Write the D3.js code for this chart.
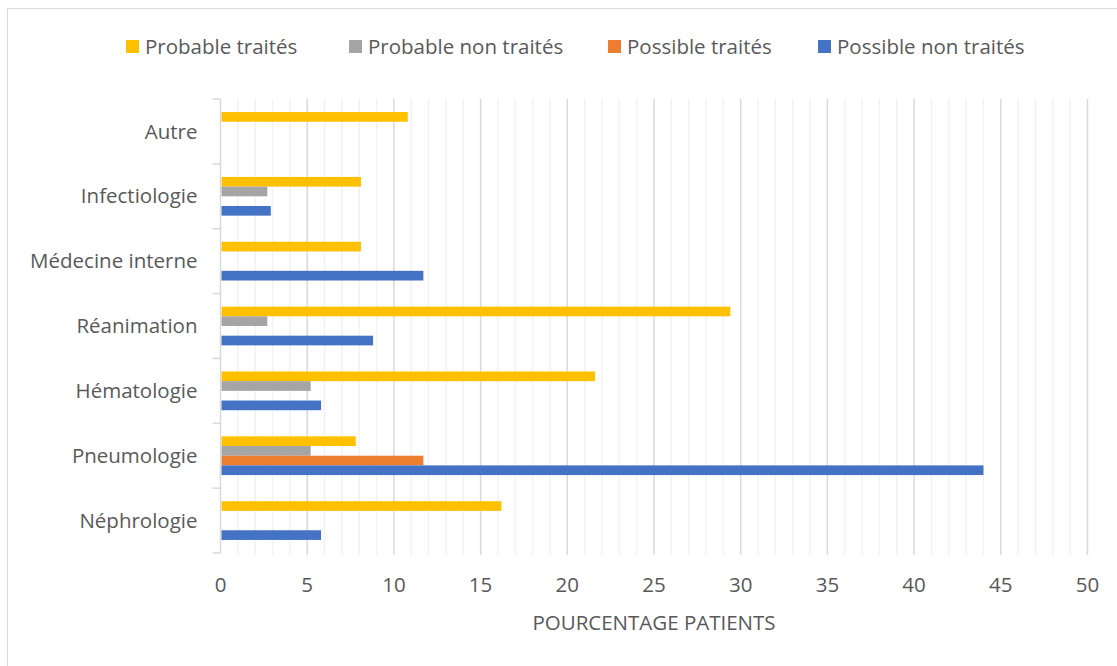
<!DOCTYPE html>
<html>
<head>
<meta charset="utf-8">
<script src="https://cdn.jsdelivr.net/npm/d3@7"></script>
<style>
  body { margin: 0; background: #fff; }
  text { font-family: "Open Sans", sans-serif; fill: #595959; }
</style>
</head>
<body>
<div id="chart"></div>
<script>
// data, categories listed top to bottom
const categories = ["Autre", "Infectiologie", "Médecine interne", "Réanimation", "Hématologie", "Pneumologie", "Néphrologie"];
const seriesNames = ["Probable traités", "Probable non traités", "Possible traités", "Possible non traités"];
const probableTraites = [10.8, 8.1, 8.1, 29.4, 21.6, 7.8, 16.2];
const probableNonTraites = [0, 2.7, 0, 2.7, 5.2, 5.2, 0];
const possibleTraites = [0, 0, 0, 0, 0, 11.7, 0];
const possibleNonTraites = [0, 2.9, 11.7, 8.8, 5.8, 44, 5.8];
const xTicks = [0, 5, 10, 15, 20, 25, 30, 35, 40, 45, 50];
const colors = ["#FFC000", "#A5A5A5", "#ED7D31", "#4472C4"];

const seriesValues = [probableTraites, probableNonTraites, possibleTraites, possibleNonTraites];

const wSvg = 1117;
const hSvg = 666;
const fontSize = "20.5px";

const svg = d3.select("#chart")
    .append("svg")
    .attr("width", wSvg)
    .attr("height", hSvg);

// chart border
svg.append("rect")
    .attr("x", 7.5).attr("y", 8.5)
    .attr("width", 1125).attr("height", 680)
    .attr("fill", "none")
    .attr("stroke", "#d9d9d9");

// Scales
const xScale = d3.scaleLinear([0, 50], [220.5, 1087.5]);
const yScale = d3.scaleBand(categories, [99, 553]);
const innerScale = d3.scaleBand(seriesNames, [0, yScale.bandwidth()])
    .paddingOuter(1.35);

// gridlines: minor every 1, major every 5
const minor = d3.range(1, 51).filter(v => v % 5 != 0);
svg.append("g").selectAll("line")
    .data(minor)
    .enter()
    .append("line")
    .attr("x1", d => xScale(d)).attr("x2", d => xScale(d))
    .attr("y1", 99).attr("y2", 555)
    .attr("stroke", "#f2f2f2")
    .attr("stroke-width", 1.5);

svg.append("g").selectAll("line")
    .data(xTicks.slice(1))
    .enter()
    .append("line")
    .attr("x1", d => xScale(d)).attr("x2", d => xScale(d))
    .attr("y1", 99).attr("y2", 555)
    .attr("stroke", "#d9d9d9")
    .attr("stroke-width", 1.5);

// left axis with category ticks
const yAxis = svg.append("g")
    .attr("transform", `translate(${xScale(0)}, 0)`);
yAxis.append("line")
    .attr("x1", 0).attr("x2", 0)
    .attr("y1", 99).attr("y2", 553)
    .attr("stroke", "#d9d9d9")
    .attr("stroke-width", 1.5);
const bounds = categories.map(c => yScale(c)).concat([553]);
yAxis.selectAll("line.tick")
    .data(bounds)
    .enter()
    .append("line")
    .attr("class", "tick")
    .attr("x1", -8).attr("x2", 0)
    .attr("y1", d => d).attr("y2", d => d)
    .attr("stroke", "#d9d9d9")
    .attr("stroke-width", 1.5);

yAxis.selectAll("text")
    .data(categories)
    .enter()
    .append("text")
    .attr("x", -23)
    .attr("y", d => yScale(d) + yScale.bandwidth() / 2)
    .attr("dy", "0.35em")
    .attr("text-anchor", "end")
    .style("font-size", fontSize)
    .text(d => d);

// x tick labels
svg.append("g").selectAll("text")
    .data(xTicks)
    .enter()
    .append("text")
    .attr("x", d => xScale(d))
    .attr("y", 585)
    .attr("dy", "0.35em")
    .attr("text-anchor", "middle")
    .style("font-size", fontSize)
    .text(d => d);

svg.append("text")
    .attr("x", (xScale(0) + xScale(50)) / 2)
    .attr("y", 623)
    .attr("dy", "0.35em")
    .attr("text-anchor", "middle")
    .style("font-size", fontSize)
    .text("POURCENTAGE PATIENTS");

// Bars
seriesNames.forEach((name, i) => {
    svg.append("g").selectAll("rect")
        .data(categories.map((c, j) => ({ cat: c, value: seriesValues[i][j] })))
        .enter()
        .append("rect")
        .attr("x", xScale(0) + 1)
        .attr("y", d => yScale(d.cat) + innerScale(name))
        .attr("width", d => Math.max(0, xScale(d.value) - xScale(0) - 1))
        .attr("height", innerScale.bandwidth())
        .attr("fill", colors[i]);
});

// Legend
const legendX = [126, 349, 608, 818];
const legend = svg.append("g");
seriesNames.forEach((name, i) => {
    legend.append("rect")
        .attr("x", legendX[i]).attr("y", 40)
        .attr("width", 13).attr("height", 13)
        .attr("fill", colors[i]);
    legend.append("text")
        .attr("x", legendX[i] + 19)
        .attr("y", 47)
        .attr("dy", "0.35em")
        .style("font-size", fontSize)
        .text(name);
});
</script>
</body>
</html>
